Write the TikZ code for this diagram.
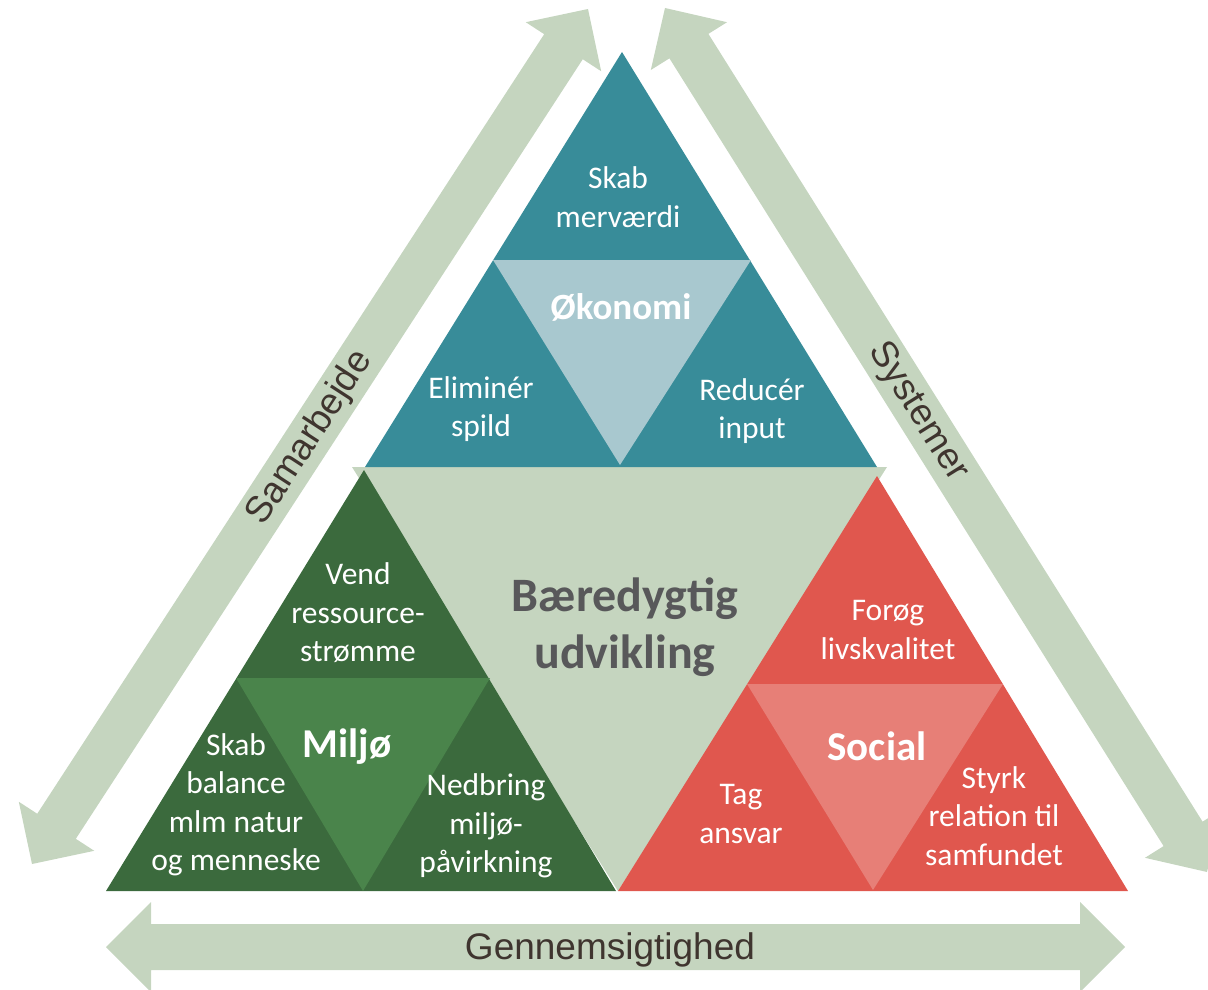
\documentclass[tikz,border=0pt]{standalone}
\usepackage{fontspec}
\setmainfont{Carlito}
\newfontfamily\arialf{Liberation Sans}
\usetikzlibrary{calc}
\definecolor{cTeal}{HTML}{388C99}
\definecolor{cTealL}{HTML}{A8C8CF}
\definecolor{cGreenD}{HTML}{3B6A3D}
\definecolor{cGreenM}{HTML}{4A844B}
\definecolor{cRed}{HTML}{E0574E}
\definecolor{cRedL}{HTML}{E77F77}
\definecolor{cSage}{HTML}{C5D5BF}
\definecolor{cGrayT}{HTML}{58585A}
\definecolor{cBrownT}{HTML}{3F352F}
\tikzset{
  arrowfill/.style={fill=cSage},
  wtext/.style={text=white, align=center, inner sep=0pt, font=\fontsize{31.5}{38.5}\selectfont},
  btext/.style={text=white, align=center, inner sep=0pt, font=\fontsize{41}{48}\selectfont\bfseries},
  atext/.style={text=cBrownT, inner sep=0pt, font=\arialf\fontsize{37}{44}\selectfont},
}
\newcommand{\dblarrow}[2]{%
  \coordinate (#1h) at ($(#1)!45pt!(#2)$);
  \coordinate (#2h) at ($(#2)!45pt!(#1)$);
  \fill[arrowfill] (#1)
    -- ($(#1h)!45pt!90:(#2)$) -- ($(#1h)!23pt!90:(#2)$)
    -- ($(#2h)!23pt!-90:(#1)$) -- ($(#2h)!45pt!-90:(#1)$)
    -- (#2)
    -- ($(#2h)!45pt!90:(#1)$) -- ($(#2h)!23pt!90:(#1)$)
    -- ($(#1h)!23pt!-90:(#2)$) -- ($(#1h)!45pt!-90:(#2)$)
    -- cycle;}
\begin{document}
\begin{tikzpicture}[x=1pt,y=-1pt]
\useasboundingbox (0,0) rectangle (1208,990);
% arrows
\coordinate (la) at (32,864);
\coordinate (lb) at (588,9);
\coordinate (ra) at (665,8);
\coordinate (rb) at (1207,872);
\coordinate (ba) at (106,947);
\coordinate (bb) at (1125,947);
\dblarrow{la}{lb}
\dblarrow{ra}{rb}
\dblarrow{ba}{bb}
\node[atext, rotate=57] (samarbejde) at (310,438) {Samarbejde};
\node[atext, rotate=-58] (systemer) at (918,412) {Systemer};
\node[atext] (gennem) at (610,950) {Gennemsigtighed};
% centre triangle
\fill[cSage] (352,467) -- (887,467) -- (618,891) -- cycle;
% economy
\fill[cTeal] (622,52) -- (365,467) -- (877,467) -- cycle;
\fill[cTealL] (493,260) -- (751,260) -- (620,465) -- cycle;
% environment
\fill[cGreenD] (364,470) -- (106,891) -- (616,891) -- cycle;
\fill[cGreenM] (236,678) -- (490,678) -- (363,891) -- cycle;
% social
\fill[cRed] (877,476) -- (618,891) -- (1128,891) -- cycle;
\fill[cRedL] (747,684) -- (1003,684) -- (873,890) -- cycle;
% texts
\node[wtext] (skabmer) at (618,197) {Skab\\merværdi};
\node[btext, font=\fontsize{37}{44}\selectfont\bfseries] (okonomi) at (621,307) {Økonomi};
\node[wtext] (elim) at (481,409) {Eliminér\\spild};
\node[wtext] (reduc) at (752,411) {Reducér\\input};
\node[wtext] (vend) at (358,613) {Vend\\ressource-\\strømme};
\node[btext] (miljo) at (347,747) {Miljø};
\node[wtext] (balance) at (236,805) {Skab\\balance\\mlm natur\\og menneske};
\node[wtext] (nedbring) at (486,826) {Nedbring\\miljø-\\påvirkning};
\node[text=cGrayT, align=center, inner sep=0pt, font=\fontsize{48}{57}\selectfont\bfseries] (baered) at (625,627) {Bæredygtig\\udvikling};
\node[wtext] (forog) at (888,630) {Forøg\\livskvalitet};
\node[btext] (social) at (877,746) {Social};
\node[wtext] (tag) at (741,814) {Tag\\ansvar};
\node[wtext] (styrk) at (994,816) {Styrk\\relation til\\samfundet};
\end{tikzpicture}
\end{document}
